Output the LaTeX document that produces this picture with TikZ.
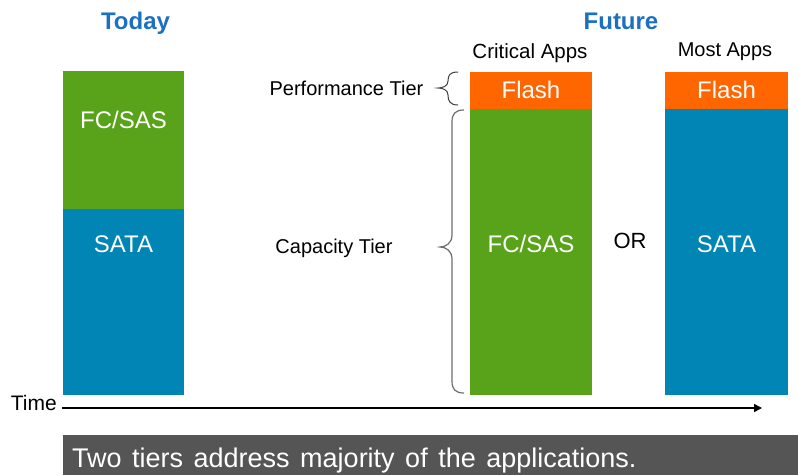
\documentclass[tikz,border=0pt]{standalone}
\usepackage{fontspec}
\setmainfont{Liberation Sans}
\usetikzlibrary{arrows.meta}
\definecolor{bargreen}{RGB}{89,163,26}
\definecolor{barblue}{RGB}{0,133,181}
\definecolor{barorange}{RGB}{255,102,0}
\definecolor{headblue}{RGB}{28,112,192}
\definecolor{footgray}{RGB}{85,85,85}
\definecolor{bracegray}{RGB}{110,110,110}
\tikzset{
  fs/.style={font=\fontsize{#1}{#1}\selectfont},
  head/.style={font=\fontsize{24}{24}\selectfont\bfseries, text=headblue, anchor=base, inner sep=0},
  bartext/.style={fs=24, text=white, anchor=base, inner sep=0},
  lbl/.style={fs=20, text=black, anchor=base, inner sep=0},
  bracestyle/.style={draw=bracegray, line width=1.2pt},
}
\begin{document}
\begin{tikzpicture}[x=1pt,y=-1pt]
\useasboundingbox (0,0) rectangle (798,475);
\fill[white] (0,0) rectangle (798,475);
% headings
\node[head] (today) at (135.5,29) {Today};
\node[head] (future) at (621,29) {Future};
\node[lbl, fs=20.5] (crit) at (530,58) {Critical Apps};
\node[lbl] (most) at (725,56) {Most Apps};
% left bar
\fill[bargreen] (63,71) rectangle (184,209);
\fill[barblue] (63,209) rectangle (184,395);
\node[bartext] (l1) at (123.5,128) {FC/SAS};
\node[bartext] (l2) at (123.5,252) {SATA};
% middle bar
\fill[barorange] (470,72) rectangle (592,109);
\fill[bargreen] (470,109) rectangle (592,395);
\node[bartext] (m1) at (531,98) {Flash};
\node[bartext] (m2) at (531,252) {FC/SAS};
% right bar
\fill[barorange] (665,72) rectangle (788,109);
\fill[barblue] (665,109) rectangle (788,395);
\node[bartext] (r1) at (726.5,98) {Flash};
\node[bartext] (r2) at (726.5,252) {SATA};
% OR
\node[lbl, fs=22] (or) at (630,248) {OR};
% tier labels and braces
\node[lbl] (perf) at (346.5,95) {Performance Tier};
\node[lbl] (cap) at (334,253) {Capacity Tier};
\draw[bracestyle, draw=black!75, line width=1pt] (458,72) .. controls (450,72) and (448,75) .. (448,81) .. controls (448,86) and (443,88) .. (438,88) .. controls (443,88) and (448,90) .. (448,95) .. controls (448,101) and (450,105) .. (458,105);
\draw[bracestyle] (464,110) .. controls (455,110) and (452,114) .. (452,122) -- (452,235) .. controls (452,243) and (446,247) .. (440,247) .. controls (446,247) and (452,251) .. (452,259) -- (452,381) .. controls (452,389) and (455,393) .. (464,393);
% time axis
\node[lbl, fs=21, anchor=base east] (time) at (57,410) {Time};
\coordinate (tstart) at (62,408);
\coordinate (tend) at (762,408);
\draw[line width=1.5pt, -{Triangle[length=8pt,width=8pt]}] (tstart) -- (tend);
% footer
\fill[footgray] (63,435) rectangle (798,475);
\node[fs=27, text=white, anchor=base west, inner sep=0] (foot) at (72,467) {\spaceskip=10.5pt\relax Two tiers address majority of the applications.};
\end{tikzpicture}
\end{document}
